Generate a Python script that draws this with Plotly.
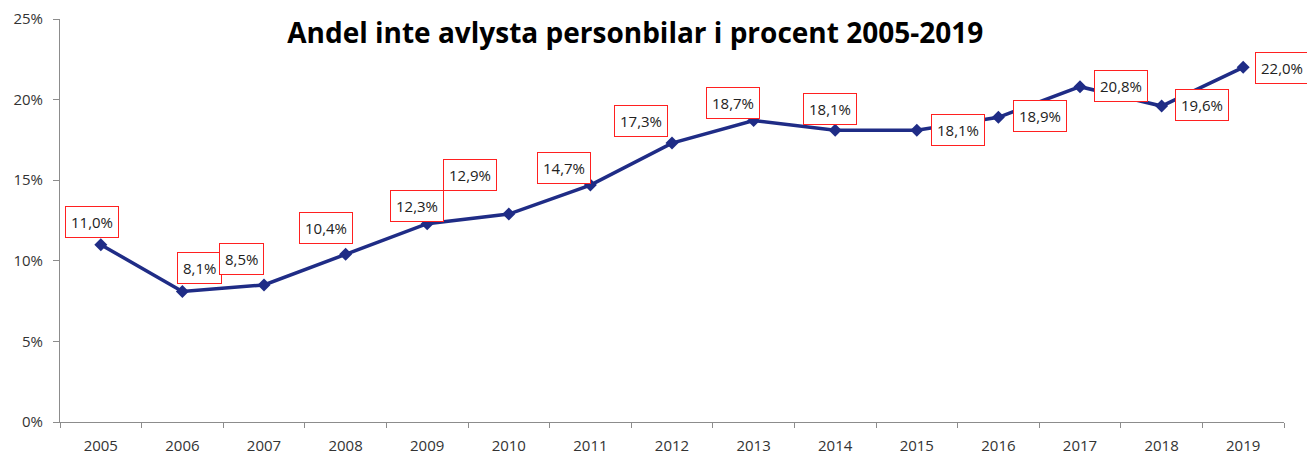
import plotly.graph_objects as go

years = ["2005", "2006", "2007", "2008", "2009", "2010", "2011", "2012",
         "2013", "2014", "2015", "2016", "2017", "2018", "2019"]
share = [11.0, 8.1, 8.5, 10.4, 12.3, 12.9, 14.7, 17.3,
         18.7, 18.1, 18.1, 18.9, 20.8, 19.6, 22.0]
labels = ["11,0%", "8,1%", "8,5%", "10,4%", "12,3%", "12,9%", "14,7%", "17,3%",
          "18,7%", "18,1%", "18,1%", "18,9%", "20,8%", "19,6%", "22,0%"]

# pixel offsets of the label boxes relative to each point (x right, y up)
label_dx = [-9, 17, -23, -20, -10, -39, -26, -31, -21, -5, 41, 42, 41, 40, 39]
label_dy = [23, 23, 26, 26, 18, 39, 17, 22, 18, 21, 0, 1, 1, 1, -1]

navy = "#1F2C86"

fig = go.Figure()
fig.add_trace(
    go.Scatter(
        x=years,
        y=share,
        mode="lines+markers",
        line=dict(color=navy, width=3.5),
        marker=dict(symbol="diamond", size=10, color=navy),
        showlegend=False,
        hoverinfo="x+y",
    )
)

# category axis: annotations are placed by category index
for i, (val, txt, dx, dy) in enumerate(zip(share, labels, label_dx, label_dy)):
    fig.add_annotation(
        x=i,
        y=val,
        text=txt,
        showarrow=False,
        xshift=dx,
        yshift=dy,
        font=dict(family="Open Sans", size=15, color="#222222"),
        bgcolor="white",
        bordercolor="#FF2020",
        borderwidth=1,
        borderpad=5,
    )

fig.update_layout(
    width=1315,
    height=459,
    template="plotly_white",
    plot_bgcolor="white",
    paper_bgcolor="white",
    margin=dict(l=52, r=39, t=11, b=45),
    title=dict(
        text="<b>Andel inte avlysta personbilar i procent 2005-2019</b>",
        x=0.477,
        xanchor="center",
        y=0.946,
        yanchor="middle",
        font=dict(family="Open Sans", size=28, color="black"),
    ),
    font=dict(family="Open Sans", size=15, color="#333333"),
)

fig.update_xaxes(
    type="category",
    range=[-0.5, len(years) - 0.5],
    showgrid=False,
    showline=True,
    linecolor="#8C8C8C",
    linewidth=1,
    ticks="outside",
    tickson="boundaries",
    ticklen=5,
    tickcolor="#8C8C8C",
    tickangle=0,
    ticklabelstandoff=10,
    tickfont=dict(family="Open Sans", size=15, color="#333333"),
    zeroline=False,
    automargin=False,
)
fig.update_yaxes(
    range=[0, 25],
    dtick=5,
    ticksuffix="%",
    showgrid=False,
    showline=True,
    linecolor="#8C8C8C",
    linewidth=1,
    ticks="outside",
    ticklen=6,
    tickcolor="#8C8C8C",
    ticklabelstandoff=7,
    tickfont=dict(family="Open Sans", size=15, color="#333333"),
    zeroline=False,
    automargin=False,
)

fig.write_html("out.html")
